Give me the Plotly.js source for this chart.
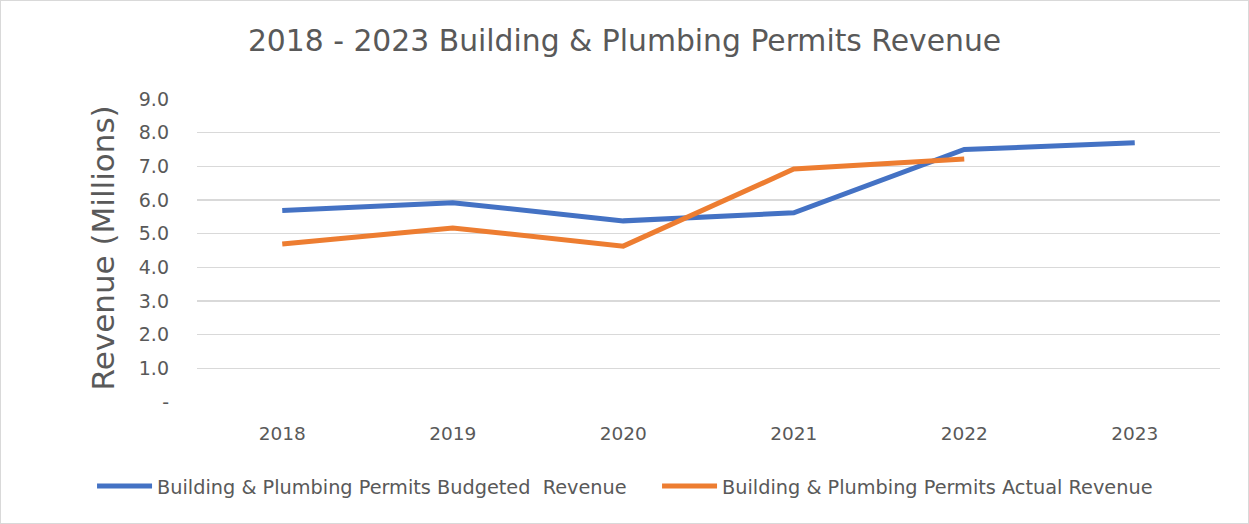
<!DOCTYPE html>
<html>
<head>
<meta charset="utf-8">
<script src="https://cdn.plot.ly/plotly-3.0.1.min.js"></script>
<style>
  html, body { margin: 0; padding: 0; background: #fff; }
  #wrap { width: 1249px; height: 524px; box-sizing: border-box; border: 1px solid #d9d9d9; }
</style>
</head>
<body>
<div id="wrap"><div id="chart"></div></div>
<script>
const years = ["2018", "2019", "2020", "2021", "2022", "2023"];
const budgeted = [5.69, 5.92, 5.38, 5.62, 7.50, 7.70];
const actual = [4.69, 5.17, 4.63, 6.92, 7.22];
const yTickVals = [0, 1, 2, 3, 4, 5, 6, 7, 8, 9];
const yTickText = ["-", "1.0", "2.0", "3.0", "4.0", "5.0", "6.0", "7.0", "8.0", "9.0"];
const yTitle = "Revenue (Millions)";

const FONT = "'DejaVu Sans', 'Open Sans', sans-serif";
const GREY = "#595959";

const traces = [
  {
    x: years, y: budgeted, type: "scatter", mode: "lines",
    name: "Building & Plumbing Permits Budgeted  Revenue",
    line: { color: "#4472C4", width: 5 }
  },
  {
    x: years.slice(0, actual.length), y: actual, type: "scatter", mode: "lines",
    name: "Building & Plumbing Permits Actual Revenue",
    line: { color: "#ED7D31", width: 5 }
  }
];

const layout = {
  width: 1247, height: 522,
  margin: { l: 196, r: 28, t: 97.7, b: 120.7, autoexpand: false },
  paper_bgcolor: "#fff", plot_bgcolor: "#fff",
  font: { family: FONT, color: GREY, size: 17 },
  title: {
    text: "2018 - 2023 Building & Plumbing Permits Revenue",
    font: { family: FONT, size: 29.8, color: GREY },
    x: 0.5, xanchor: "center", y: 0.925, yanchor: "middle"
  },
  xaxis: {
    type: "category", range: [-0.5, 5.5],
    showgrid: false, zeroline: false, showline: false,
    ticks: "", tickfont: { size: 18.5, color: GREY }, ticklabelstandoff: 18
  },
  yaxis: {
    range: [0, 9], tickvals: yTickVals, ticktext: yTickText,
    showgrid: true, gridcolor: "#d9d9d9", gridwidth: 1.3,
    zeroline: false, showline: false, ticks: "",
    tickfont: { size: 19, color: GREY }, ticklabelstandoff: 27
  },
  annotations: [
    {
      text: yTitle, textangle: -90, showarrow: false,
      xref: "paper", yref: "paper", x: -0.091, xanchor: "center",
      y: 0.51, yanchor: "middle",
      font: { family: FONT, size: 31, color: GREY }
    }
  ],
  showlegend: true,
  legend: {
    orientation: "h", x: -0.1026, xanchor: "left", y: -0.279, yanchor: "middle",
    font: { size: 19.3, color: GREY }, entrywidth: 495, entrywidthmode: "pixels",
    itemwidth: 55, bgcolor: "rgba(0,0,0,0)"
  }
};

Plotly.newPlot("chart", traces, layout, { staticPlot: true, displayModeBar: false });
</script>
</body>
</html>
